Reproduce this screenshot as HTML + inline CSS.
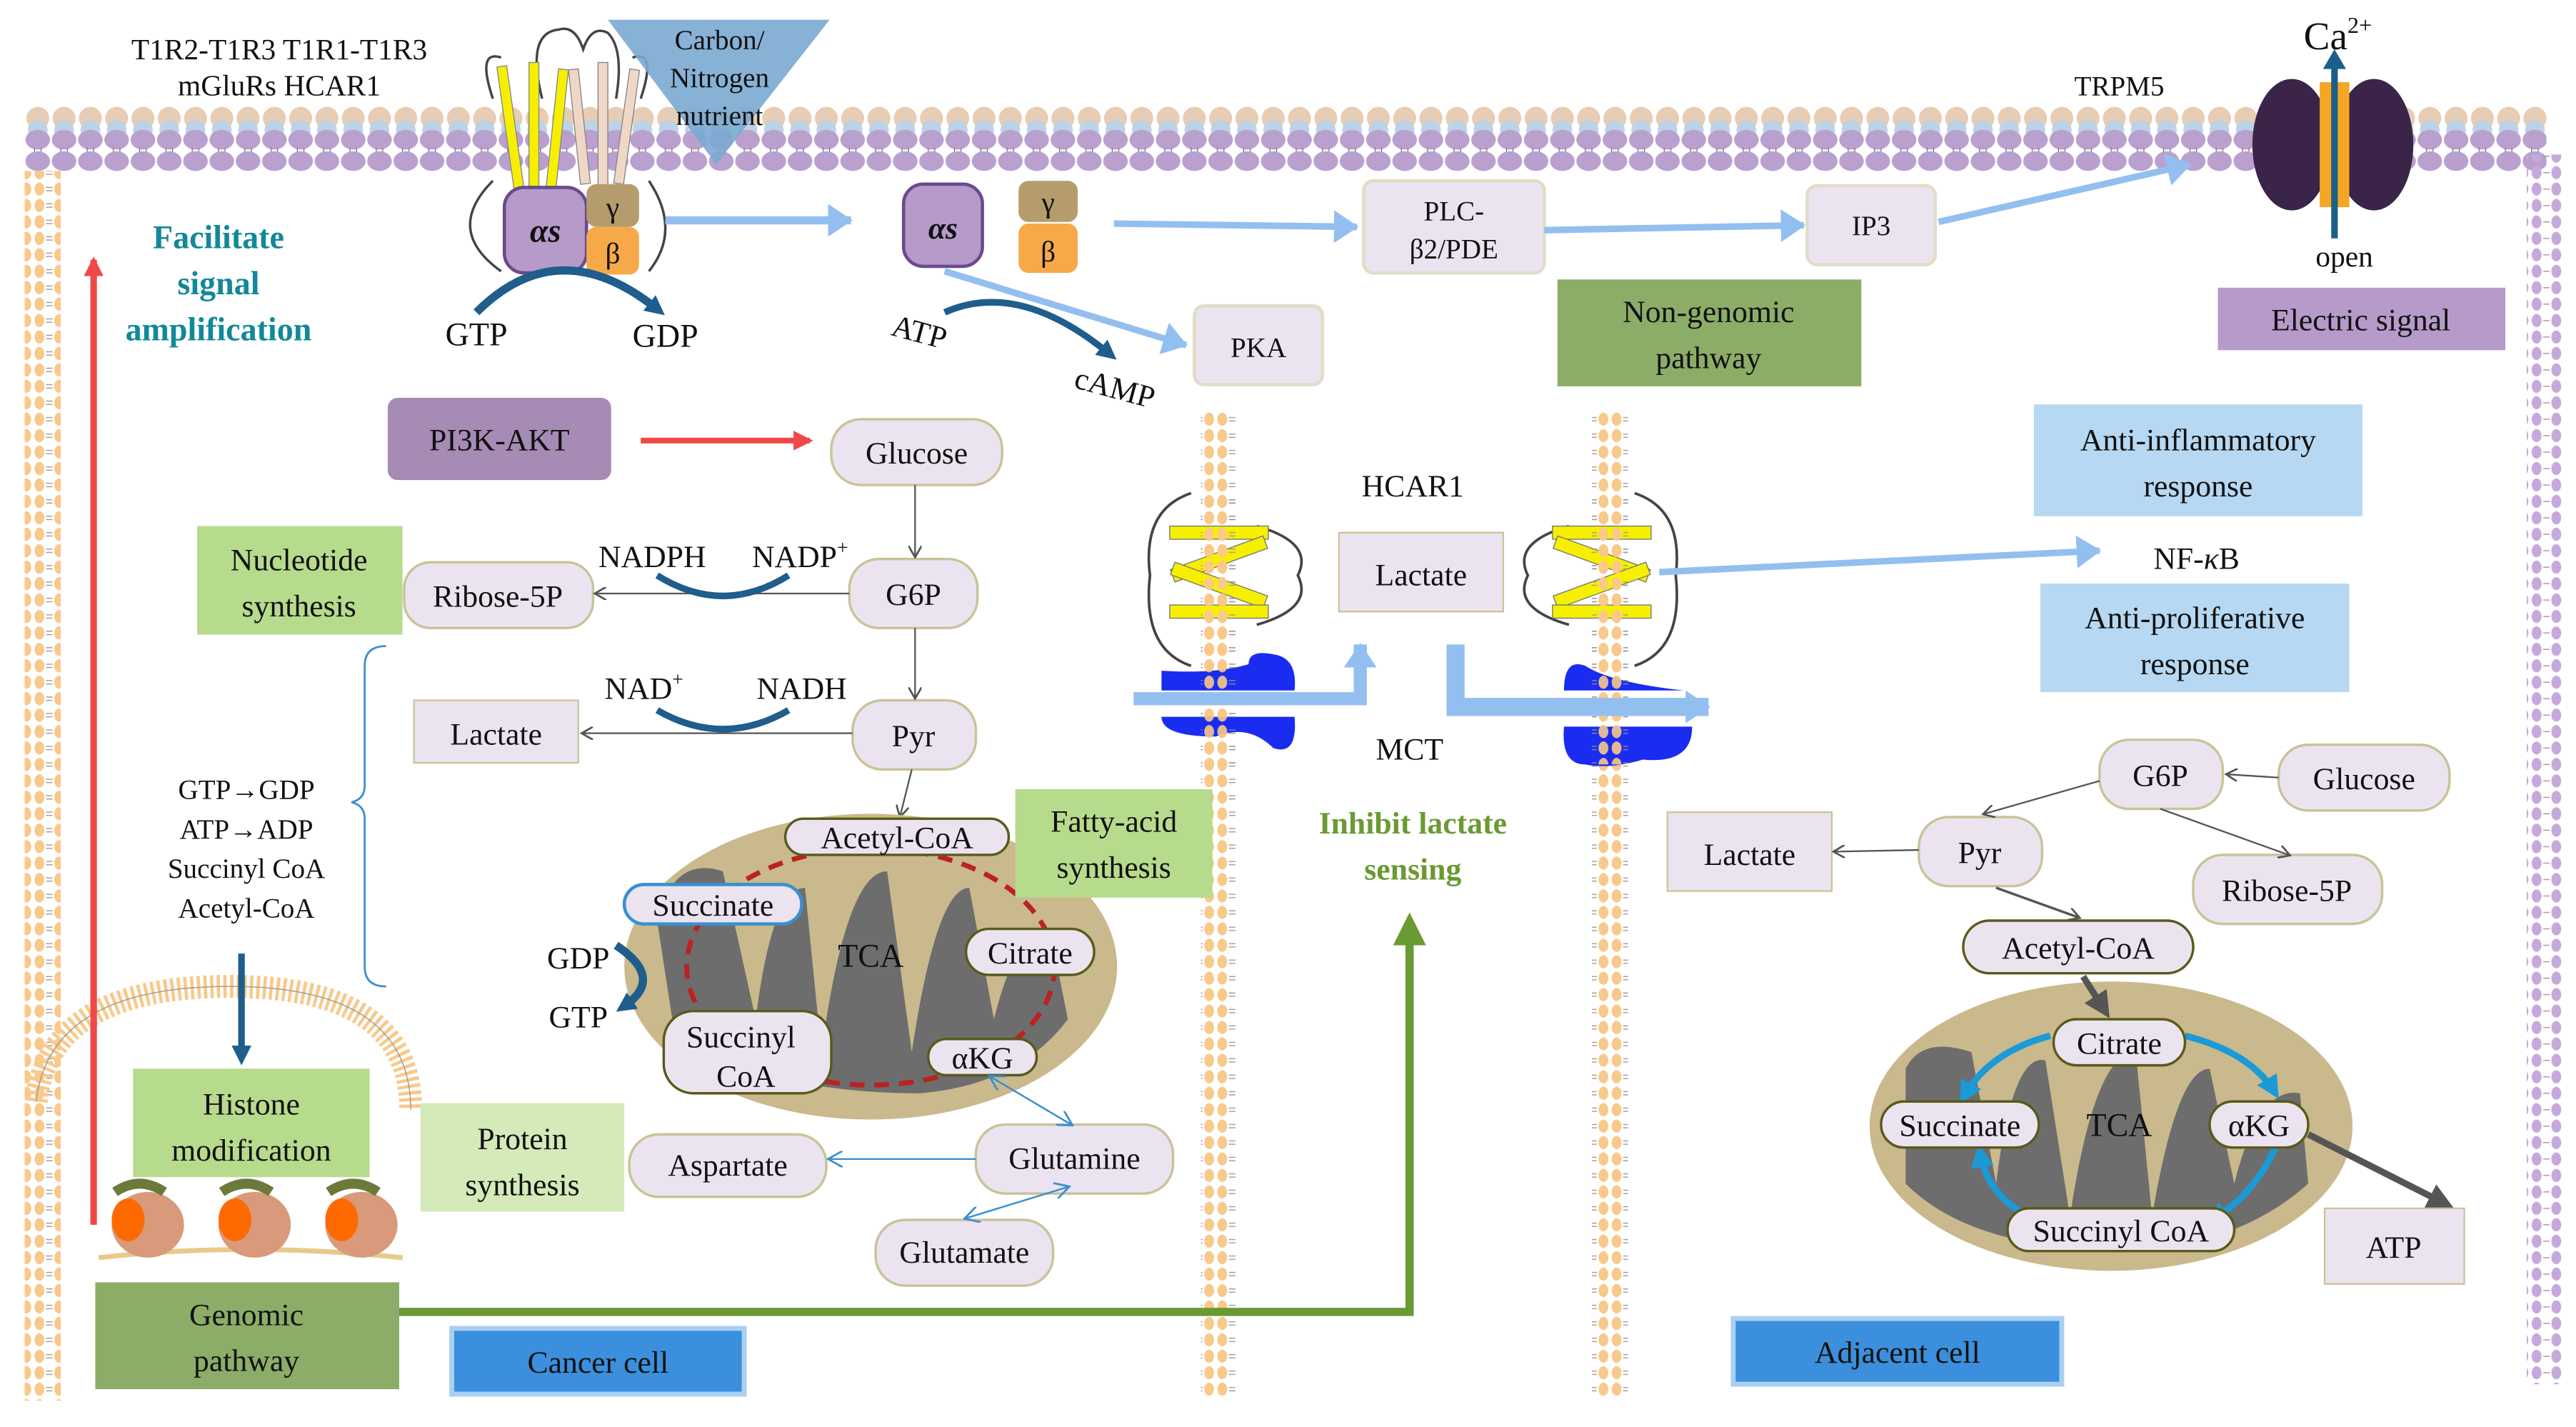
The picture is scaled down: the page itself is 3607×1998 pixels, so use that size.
<!DOCTYPE html>
<html><head><meta charset="utf-8"><style>
html,body{margin:0;padding:0;background:#fff;width:3607px;height:1998px;overflow:hidden}
svg{display:block}
text{font-family:"Liberation Serif",serif;fill:#111}
</style></head><body>
<svg width="3607" height="1998" viewBox="0 0 1568 868" preserveAspectRatio="none" xmlns="http://www.w3.org/2000/svg">
<defs>
<pattern id="memTop" x="15" y="0" width="16" height="110" patternUnits="userSpaceOnUse">
<circle cx="8" cy="72" r="7" fill="#e6cdb3"/>
<circle cx="8" cy="79" r="6" fill="#bcd3e6"/>
<ellipse cx="8" cy="85" rx="7.5" ry="6" fill="#b9a0cf"/>
<line x1="6" y1="90" x2="6" y2="93" stroke="#777" stroke-width="0.6"/>
<line x1="10" y1="90" x2="10" y2="93" stroke="#777" stroke-width="0.6"/>
<ellipse cx="8" cy="98" rx="7.5" ry="6" fill="#b9a0cf"/>
</pattern>
<pattern id="memV" x="0" y="0" width="20" height="10" patternUnits="userSpaceOnUse">
<ellipse cx="4" cy="5" rx="3" ry="4" fill="#f8c98a"/>
<ellipse cx="16" cy="5" rx="3" ry="4" fill="#f8c98a"/>
<line x1="8" y1="4" x2="12" y2="4" stroke="#999" stroke-width="0.6"/>
<line x1="8" y1="6" x2="12" y2="6" stroke="#999" stroke-width="0.6"/>
</pattern>
<pattern id="memVP" x="0" y="0" width="20" height="10" patternUnits="userSpaceOnUse">
<ellipse cx="4" cy="5" rx="3" ry="4" fill="#c6a9dc"/>
<ellipse cx="16" cy="5" rx="3" ry="4" fill="#c6a9dc"/>
<line x1="8" y1="5" x2="12" y2="5" stroke="#999" stroke-width="0.6"/>
</pattern>
<marker id="ab" markerWidth="8" markerHeight="8" refX="6" refY="4" orient="auto" markerUnits="userSpaceOnUse"><path d="M0,0 L7,4 L0,8" fill="none" stroke="#555" stroke-width="1.2"/></marker>
<marker id="lb" markerWidth="16" markerHeight="20" refX="14" refY="10" orient="auto" markerUnits="userSpaceOnUse"><path d="M0,0 L15,10 L0,20 Z" fill="#93bff0"/></marker>
<marker id="tl" markerWidth="10" markerHeight="10" refX="8" refY="5" orient="auto" markerUnits="userSpaceOnUse"><path d="M0,0 L9,5 L0,10" fill="none" stroke="#3a8fcf" stroke-width="1.2"/></marker>
<marker id="red" markerWidth="12" markerHeight="12" refX="10" refY="6" orient="auto" markerUnits="userSpaceOnUse"><path d="M0,0 L12,6 L0,12 Z" fill="#f04848"/></marker>
<marker id="db" markerWidth="12" markerHeight="12" refX="6" refY="6" orient="auto" markerUnits="userSpaceOnUse"><path d="M0,0 L12,6 L0,12 Z" fill="#1e5d8c"/></marker>
<marker id="gr" markerWidth="20" markerHeight="20" refX="10" refY="10" orient="auto" markerUnits="userSpaceOnUse"><path d="M0,0 L20,10 L0,20 Z" fill="#6a9a32"/></marker>
<marker id="gy" markerWidth="16" markerHeight="16" refX="12" refY="8" orient="auto" markerUnits="userSpaceOnUse"><path d="M0,0 L16,8 L0,16 Z" fill="#555"/></marker>
<marker id="cy" markerWidth="14" markerHeight="14" refX="10" refY="7" orient="auto" markerUnits="userSpaceOnUse"><path d="M0,0 L14,7 L0,14 Z" fill="#1b9ad6"/></marker>
</defs>

<rect x="15" y="60" width="1535" height="45" fill="url(#memTop)"/>
<rect x="15" y="104" width="22" height="748" fill="url(#memV)"/>
<rect x="1538" y="94" width="22" height="748" fill="url(#memVP)"/>
<rect x="731" y="250" width="22" height="600" fill="url(#memV)"/>
<rect x="969" y="250" width="22" height="600" fill="url(#memV)"/>
<path d="M22,670 Q30,600 140,600 Q250,600 250,675" fill="none" stroke="#f8c98a" stroke-width="14" stroke-dasharray="2 2"/>
<path d="M22,670 Q30,600 140,600 Q250,600 250,675" fill="none" stroke="#999" stroke-width="0.6"/>

<text x="170" y="36" font-size="18" text-anchor="middle">T1R2-T1R3  T1R1-T1R3</text>
<text x="170" y="58" font-size="18" text-anchor="middle">mGluRs   HCAR1</text>
<g stroke="#444" fill="none" stroke-width="1.5">
<path d="M330,60 Q320,20 340,18 Q350,15 355,30 Q360,15 370,20 Q380,30 375,60"/>
<path d="M305,35 Q290,30 300,60"/><path d="M385,35 Q400,30 390,60"/>
<path d="M300,110 Q270,140 305,165"/><path d="M395,110 Q415,140 395,165"/>
</g>
<g fill="#f6f000" stroke="#888" stroke-width="0.6">
<rect x="308" y="40" width="6" height="75" transform="rotate(-8 311 80)"/><rect x="322" y="38" width="6" height="80"/><rect x="336" y="42" width="6" height="75" transform="rotate(6 339 80)"/>
</g>
<g fill="#f0d7c5" stroke="#888" stroke-width="0.6">
<rect x="350" y="42" width="6" height="70" transform="rotate(-6 353 80)"/><rect x="364" y="38" width="6" height="75"/><rect x="378" y="42" width="6" height="70" transform="rotate(8 381 80)"/>
</g>
<path d="M370,12 L505,12 L436,100 Z" fill="#7ba8d2" opacity="0.9"/>
<text x="438" y="30" font-size="17" text-anchor="middle">Carbon/</text>
<text x="438" y="53" font-size="17" text-anchor="middle">Nitrogen</text>
<text x="438" y="76" font-size="17" text-anchor="middle">nutrient</text>

<rect x="307" y="114" width="50" height="52" rx="12" fill="#b69ac9" stroke="#6a4b8c" stroke-width="2"/>
<text x="332" y="147" font-size="20" font-weight="bold" text-anchor="middle" font-style="italic">αs</text>
<rect x="357" y="112" width="32" height="26" rx="6" fill="#b49c6c"/>
<text x="373" y="132" font-size="18" text-anchor="middle">γ</text>
<rect x="357" y="138" width="32" height="29" rx="6" fill="#f7a94a"/>
<text x="373" y="160" font-size="18" text-anchor="middle">β</text>
<path d="M290,190 Q340,140 400,188" fill="none" stroke="#1e5d8c" stroke-width="5" marker-end="url(#db)"/>
<text x="290" y="210" font-size="20" text-anchor="middle">GTP</text>
<text x="405" y="211" font-size="20" text-anchor="middle">GDP</text>

<line x1="405" y1="134" x2="518" y2="134" stroke="#93bff0" stroke-width="5" marker-end="url(#lb)"/>
<rect x="550" y="112" width="48" height="50" rx="12" fill="#b69ac9" stroke="#6a4b8c" stroke-width="2"/>
<text x="574" y="145" font-size="19" font-weight="bold" text-anchor="middle" font-style="italic">αs</text>
<rect x="620" y="110" width="36" height="25" rx="6" fill="#b49c6c"/>
<text x="638" y="129" font-size="18" text-anchor="middle">γ</text>
<rect x="620" y="136" width="36" height="30" rx="6" fill="#f7a94a"/>
<text x="638" y="159" font-size="18" text-anchor="middle">β</text>
<line x1="678" y1="136" x2="826" y2="138" stroke="#93bff0" stroke-width="4" marker-end="url(#lb)"/>
<rect x="830" y="110" width="110" height="56" rx="6" fill="#ebe4f0" stroke="#e0ddc8" stroke-width="2"/>
<text x="885" y="134" font-size="17" text-anchor="middle">PLC-</text>
<text x="885" y="157" font-size="17" text-anchor="middle">β2/PDE</text>
<line x1="940" y1="140" x2="1098" y2="137" stroke="#93bff0" stroke-width="4" marker-end="url(#lb)"/>
<rect x="1100" y="113" width="78" height="48" rx="6" fill="#ebe4f0" stroke="#e0ddc8" stroke-width="2"/>
<text x="1139" y="143" font-size="17" text-anchor="middle">IP3</text>
<line x1="1180" y1="135" x2="1333" y2="100" stroke="#93bff0" stroke-width="4" marker-end="url(#lb)"/>
<text x="1290" y="58" font-size="17" text-anchor="middle">TRPM5</text>
<ellipse cx="1395" cy="88" rx="24" ry="40" fill="#3a2448"/>
<ellipse cx="1445" cy="88" rx="24" ry="40" fill="#3a2448"/>
<rect x="1412" y="50" width="18" height="76" fill="#f5a623"/>
<line x1="1421" y1="145" x2="1421" y2="40" stroke="#1a5f8c" stroke-width="4"/>
<path d="M1414,42 L1421,30 L1428,42 Z" fill="#1a5f8c"/>
<text x="1423" y="30" font-size="24" text-anchor="middle">Ca<tspan font-size="14" dy="-10">2+</tspan></text>
<text x="1427" y="162" font-size="18" text-anchor="middle">open</text>
<rect x="1350" y="175" width="175" height="38" fill="#b69ac9"/>
<text x="1437" y="201" font-size="19" text-anchor="middle">Electric signal</text>
<rect x="948" y="170" width="185" height="65" fill="#8cad68"/>
<text x="1040" y="196" font-size="19" text-anchor="middle">Non-genomic</text>
<text x="1040" y="224" font-size="19" text-anchor="middle">pathway</text>

<line x1="575" y1="165" x2="722" y2="210" stroke="#93bff0" stroke-width="4" marker-end="url(#lb)"/>
<rect x="727" y="186" width="78" height="48" rx="6" fill="#ebe4f0" stroke="#e0ddc8" stroke-width="2"/>
<text x="766" y="217" font-size="17" text-anchor="middle">PKA</text>
<path d="M575,190 Q620,170 675,215" fill="none" stroke="#1e5d8c" stroke-width="4" marker-end="url(#db)"/>
<text x="558" y="208" font-size="19" text-anchor="middle" transform="rotate(15 558 208)">ATP</text>
<text x="677" y="242" font-size="19" text-anchor="middle" transform="rotate(15 677 242)">cAMP</text>

<line x1="57" y1="745" x2="57" y2="158" stroke="#f04848" stroke-width="4" marker-end="url(#red)"/>
<text x="133" y="151" font-size="20" font-weight="bold" text-anchor="middle" style="fill:#12889a">Facilitate</text>
<text x="133" y="179" font-size="20" font-weight="bold" text-anchor="middle" style="fill:#12889a">signal</text>
<text x="133" y="207" font-size="20" font-weight="bold" text-anchor="middle" style="fill:#12889a">amplification</text>
<rect x="236" y="242" width="136" height="50" rx="6" fill="#a68bb5"/>
<text x="304" y="274" font-size="19" text-anchor="middle">PI3K-AKT</text>
<line x1="390" y1="268" x2="493" y2="268" stroke="#f04848" stroke-width="3.5" marker-end="url(#red)"/>

<g fill="#ebe4f0" stroke="#c9c398" stroke-width="1.5">
<rect x="506" y="255" width="104" height="40" rx="18"/>
<rect x="517" y="340" width="78" height="42" rx="18"/>
<rect x="246" y="342" width="115" height="40" rx="16"/>
<rect x="519" y="426" width="75" height="42" rx="18"/>
<rect x="383" y="690" width="120" height="38" rx="18"/>
<rect x="594" y="684" width="120" height="42" rx="18"/>
<rect x="533" y="742" width="108" height="40" rx="18"/>
</g>
<text x="558" y="282" font-size="19" text-anchor="middle">Glucose</text>
<text x="556" y="368" font-size="19" text-anchor="middle">G6P</text>
<text x="303" y="369" font-size="19" text-anchor="middle">Ribose-5P</text>
<text x="556" y="454" font-size="19" text-anchor="middle">Pyr</text>
<text x="443" y="715" font-size="19" text-anchor="middle">Aspartate</text>
<text x="654" y="711" font-size="19" text-anchor="middle">Glutamine</text>
<text x="587" y="768" font-size="19" text-anchor="middle">Glutamate</text>
<line x1="557" y1="295" x2="557" y2="338" stroke="#555" marker-end="url(#ab)"/>
<line x1="557" y1="382" x2="557" y2="424" stroke="#555" marker-end="url(#ab)"/>
<line x1="517" y1="361" x2="363" y2="361" stroke="#555" marker-end="url(#ab)"/>
<line x1="519" y1="446" x2="355" y2="446" stroke="#555" marker-end="url(#ab)"/>
<line x1="555" y1="468" x2="548" y2="496" stroke="#555" marker-end="url(#ab)"/>
<path d="M400,350 Q440,375 480,350" fill="none" stroke="#1e5d8c" stroke-width="4"/>
<path d="M400,432 Q440,455 480,432" fill="none" stroke="#1e5d8c" stroke-width="4"/>
<text x="397" y="345" font-size="19" text-anchor="middle">NADPH</text>
<text x="487" y="345" font-size="19" text-anchor="middle">NADP<tspan font-size="12" dy="-8">+</tspan></text>
<text x="392" y="425" font-size="19" text-anchor="middle">NAD<tspan font-size="12" dy="-8">+</tspan></text>
<text x="488" y="425" font-size="19" text-anchor="middle">NADH</text>
<rect x="252" y="426" width="100" height="38" fill="#ebe4f0" stroke="#c9c398"/>
<text x="302" y="453" font-size="19" text-anchor="middle">Lactate</text>
<rect x="120" y="320" width="125" height="66" fill="#b7db8c"/>
<text x="182" y="347" font-size="19" text-anchor="middle">Nucleotide</text>
<text x="182" y="375" font-size="19" text-anchor="middle">synthesis</text>

<path d="M235,393 Q222,393 222,405 L222,478 Q222,486 214,488 Q222,490 222,498 L222,588 Q222,600 235,600" fill="none" stroke="#3a8fcf" stroke-width="1.2"/>
<g font-size="17" text-anchor="middle">
<text x="150" y="486">GTP→GDP</text><text x="150" y="510">ATP→ADP</text>
<text x="150" y="534">Succinyl CoA</text><text x="150" y="558">Acetyl-CoA</text>
</g>
<line x1="147" y1="580" x2="147" y2="642" stroke="#1e5d8c" stroke-width="4" marker-end="url(#db)"/>
<rect x="81" y="650" width="144" height="66" fill="#b7db8c"/>
<text x="153" y="678" font-size="19" text-anchor="middle">Histone</text>
<text x="153" y="706" font-size="19" text-anchor="middle">modification</text>
<rect x="256" y="671" width="124" height="66" fill="#d4eab8"/>
<text x="318" y="699" font-size="19" text-anchor="middle">Protein</text>
<text x="318" y="727" font-size="19" text-anchor="middle">synthesis</text>
<g>
<path d="M60,765 Q150,755 245,765" stroke="#e8c98a" stroke-width="3" fill="none"/>
<ellipse cx="90" cy="745" rx="22" ry="20" fill="#d89a7a"/><ellipse cx="78" cy="742" rx="10" ry="13" fill="#ff6a00"/><path d="M70,725 Q85,715 100,725" stroke="#6b7a3a" stroke-width="6" fill="none"/>
<ellipse cx="155" cy="745" rx="22" ry="20" fill="#d89a7a"/><ellipse cx="143" cy="742" rx="10" ry="13" fill="#ff6a00"/><path d="M135,725 Q150,715 165,725" stroke="#6b7a3a" stroke-width="6" fill="none"/>
<ellipse cx="220" cy="745" rx="22" ry="20" fill="#d89a7a"/><ellipse cx="208" cy="742" rx="10" ry="13" fill="#ff6a00"/><path d="M200,725 Q215,715 230,725" stroke="#6b7a3a" stroke-width="6" fill="none"/>
</g>
<rect x="58" y="780" width="185" height="65" fill="#8cad68"/>
<text x="150" y="806" font-size="19" text-anchor="middle">Genomic</text>
<text x="150" y="834" font-size="19" text-anchor="middle">pathway</text>
<rect x="275" y="808" width="178" height="40" fill="#3b8fdc" stroke="#a8d0f2" stroke-width="3"/>
<text x="364" y="835" font-size="19" text-anchor="middle">Cancer cell</text>
<polyline points="243,798 858,798 858,565" fill="none" stroke="#6a9a32" stroke-width="5" marker-end="url(#gr)"/>

<ellipse cx="530" cy="588" rx="150" ry="93" fill="#c9b98c"/>
<path d="M400,560 Q410,520 440,530 L460,620 Q470,540 490,540 L500,640 Q515,530 540,530 L555,640 Q570,540 590,540 L605,620 Q620,560 640,570 L650,620 Q620,660 560,665 Q460,665 410,625 Z" fill="#6d6d6d"/>
<ellipse cx="530" cy="588" rx="112" ry="72" fill="none" stroke="#b22" stroke-width="3" stroke-dasharray="9 6"/>
<path d="M612,565 L618,577 L606,575 Z" fill="#b22"/>
<g fill="#ebe4f0" stroke="#5a5a1a" stroke-width="1.5">
<rect x="478" y="498" width="136" height="22" rx="11"/>
<rect x="588" y="565" width="78" height="28" rx="14"/>
<rect x="404" y="615" width="102" height="50" rx="18"/>
<rect x="565" y="632" width="66" height="22" rx="11"/>
</g>
<rect x="380" y="538" width="108" height="24" rx="12" fill="#ebe4f0" stroke="#3a8fcf" stroke-width="2"/>
<text x="546" y="516" font-size="19" text-anchor="middle">Acetyl-CoA</text>
<text x="434" y="557" font-size="19" text-anchor="middle">Succinate</text>
<text x="627" y="586" font-size="19" text-anchor="middle">Citrate</text>
<text x="451" y="637" font-size="19" text-anchor="middle">Succinyl</text>
<text x="454" y="661" font-size="19" text-anchor="middle">CoA</text>
<text x="598" y="650" font-size="19" text-anchor="middle">αKG</text>
<text x="530" y="588" font-size="20" text-anchor="middle">TCA</text>
<text x="352" y="589" font-size="19" text-anchor="middle">GDP</text>
<text x="352" y="625" font-size="19" text-anchor="middle">GTP</text>
<path d="M375,575 Q405,595 380,612" fill="none" stroke="#1e5d8c" stroke-width="5" marker-end="url(#db)"/>
<rect x="618" y="480" width="120" height="66" fill="#b7db8c"/>
<text x="678" y="506" font-size="19" text-anchor="middle">Fatty-acid</text>
<text x="678" y="534" font-size="19" text-anchor="middle">synthesis</text>
<line x1="603" y1="655" x2="652" y2="684" stroke="#3a8fcf" marker-end="url(#tl)"/>
<line x1="652" y1="684" x2="603" y2="655" stroke="#3a8fcf" marker-end="url(#tl)"/>
<line x1="594" y1="705" x2="505" y2="705" stroke="#3a8fcf" marker-end="url(#tl)"/>
<line x1="650" y1="722" x2="588" y2="741" stroke="#3a8fcf" marker-end="url(#tl)"/>
<line x1="588" y1="741" x2="650" y2="722" stroke="#3a8fcf" marker-end="url(#tl)"/>

<g stroke="#444" fill="none" stroke-width="1.6">
<path d="M725,300 Q695,310 700,350 Q695,395 725,405"/><path d="M765,320 Q800,330 790,350 Q800,370 765,380"/>
<path d="M995,300 Q1025,310 1020,350 Q1025,395 995,405"/><path d="M955,320 Q920,330 930,350 Q920,370 955,380"/>
</g>
<g fill="#f6f000" stroke="#777" stroke-width="0.6">
<rect x="712" y="320" width="60" height="8"/><rect x="712" y="336" width="60" height="8" transform="rotate(-20 742 340)"/><rect x="712" y="352" width="60" height="8" transform="rotate(20 742 356)"/><rect x="712" y="368" width="60" height="8"/>
<rect x="945" y="320" width="60" height="8"/><rect x="945" y="336" width="60" height="8" transform="rotate(20 975 340)"/><rect x="945" y="352" width="60" height="8" transform="rotate(-20 975 356)"/><rect x="945" y="368" width="60" height="8"/>
</g>
<rect x="731" y="300" width="22" height="100" fill="url(#memV)"/>
<rect x="969" y="300" width="22" height="100" fill="url(#memV)"/>
<text x="860" y="302" font-size="19" text-anchor="middle">HCAR1</text>
<rect x="815" y="324" width="100" height="48" fill="#ebe4f0" stroke="#c9c398"/>
<text x="865" y="356" font-size="19" text-anchor="middle">Lactate</text>
<g fill="#1a2cf0">
<path d="M707,420 L707,408 Q740,410 760,404 Q760,395 775,398 Q790,400 788,420 Z"/>
<path d="M707,436 L788,436 Q790,460 775,455 Q760,440 740,448 Q707,448 707,436 Z"/>
<path d="M952,420 Q952,400 965,405 Q980,415 1025,420 Z"/>
<path d="M952,442 L1030,442 Q1030,465 1000,462 Q980,468 965,465 Q950,465 952,442 Z"/>
</g>
<rect x="731" y="395" width="22" height="70" fill="url(#memV)" opacity="0.9"/>
<rect x="969" y="395" width="22" height="70" fill="url(#memV)" opacity="0.9"/>
<polyline points="690,425 828,425 828,392" fill="none" stroke="#93bff0" stroke-width="8" marker-end="url(#lb)"/>
<polyline points="886,392 886,430 1040,430" fill="none" stroke="#93bff0" stroke-width="11" marker-end="url(#lb)"/>
<text x="858" y="462" font-size="19" text-anchor="middle">MCT</text>
<text x="860" y="507" font-size="19" font-weight="bold" text-anchor="middle" style="fill:#6a9a32">Inhibit lactate</text>
<text x="860" y="535" font-size="19" font-weight="bold" text-anchor="middle" style="fill:#6a9a32">sensing</text>

<line x1="1010" y1="348" x2="1278" y2="335" stroke="#93bff0" stroke-width="4" marker-end="url(#lb)"/>
<rect x="1238" y="246" width="200" height="68" fill="#b6d8f2"/>
<text x="1338" y="274" font-size="19" text-anchor="middle">Anti-inflammatory</text>
<text x="1338" y="302" font-size="19" text-anchor="middle">response</text>
<text x="1337" y="346" font-size="19" text-anchor="middle">NF-<tspan font-style="italic">κ</tspan>B</text>
<rect x="1242" y="355" width="188" height="66" fill="#b6d8f2"/>
<text x="1336" y="382" font-size="19" text-anchor="middle">Anti-proliferative</text>
<text x="1336" y="410" font-size="19" text-anchor="middle">response</text>

<g fill="#ebe4f0" stroke="#c9c398" stroke-width="1.5">
<rect x="1278" y="450" width="75" height="42" rx="18"/>
<rect x="1387" y="453" width="104" height="40" rx="18"/>
<rect x="1168" y="497" width="75" height="42" rx="18"/>
<rect x="1335" y="520" width="115" height="42" rx="18"/>
</g>
<text x="1315" y="478" font-size="19" text-anchor="middle">G6P</text>
<text x="1439" y="480" font-size="19" text-anchor="middle">Glucose</text>
<text x="1205" y="525" font-size="19" text-anchor="middle">Pyr</text>
<text x="1392" y="548" font-size="19" text-anchor="middle">Ribose-5P</text>
<rect x="1015" y="494" width="100" height="48" fill="#ebe4f0" stroke="#c9c398"/>
<text x="1065" y="526" font-size="19" text-anchor="middle">Lactate</text>
<line x1="1387" y1="473" x2="1356" y2="471" stroke="#555" marker-end="url(#ab)"/>
<line x1="1278" y1="475" x2="1208" y2="495" stroke="#555" marker-end="url(#ab)"/>
<line x1="1315" y1="492" x2="1393" y2="520" stroke="#555" marker-end="url(#ab)"/>
<line x1="1168" y1="517" x2="1117" y2="518" stroke="#555" marker-end="url(#ab)"/>
<line x1="1215" y1="540" x2="1265" y2="558" stroke="#555" stroke-width="1.5" marker-end="url(#ab)"/>
<rect x="1195" y="560" width="140" height="32" rx="16" fill="#ebe4f0" stroke="#5a5a1a" stroke-width="1.5"/>
<text x="1265" y="583" font-size="19" text-anchor="middle">Acetyl-CoA</text>
<ellipse cx="1285" cy="685" rx="147" ry="88" fill="#c9b98c"/>
<path d="M1160,650 Q1170,630 1200,640 L1215,720 Q1225,640 1245,645 L1260,740 Q1275,640 1300,640 L1310,740 Q1325,650 1345,650 L1360,720 Q1375,660 1400,665 L1405,720 Q1360,760 1290,760 Q1200,760 1160,720 Z" fill="#6d6d6d"/>
<line x1="1268" y1="594" x2="1282" y2="616" stroke="#555" stroke-width="4" marker-end="url(#gy)"/>
<path d="M1248,630 Q1210,640 1195,668" fill="none" stroke="#1b9ad6" stroke-width="4" marker-end="url(#cy)"/>
<path d="M1330,630 Q1370,640 1385,665" fill="none" stroke="#1b9ad6" stroke-width="4" marker-end="url(#cy)"/>
<path d="M1385,698 Q1370,730 1345,742" fill="none" stroke="#1b9ad6" stroke-width="4" marker-end="url(#cy)"/>
<path d="M1240,742 Q1210,730 1205,700" fill="none" stroke="#1b9ad6" stroke-width="4" marker-end="url(#cy)"/>
<g fill="#ebe4f0" stroke="#5a5a1a" stroke-width="1.5">
<rect x="1250" y="620" width="80" height="28" rx="14"/>
<rect x="1145" y="670" width="96" height="28" rx="14"/>
<rect x="1345" y="670" width="60" height="28" rx="14"/>
<rect x="1222" y="735" width="138" height="26" rx="13"/>
</g>
<text x="1290" y="641" font-size="19" text-anchor="middle">Citrate</text>
<text x="1193" y="691" font-size="19" text-anchor="middle">Succinate</text>
<text x="1375" y="691" font-size="19" text-anchor="middle">αKG</text>
<text x="1291" y="755" font-size="19" text-anchor="middle">Succinyl CoA</text>
<text x="1290" y="691" font-size="20" text-anchor="middle">TCA</text>
<line x1="1405" y1="690" x2="1490" y2="733" stroke="#555" stroke-width="4" marker-end="url(#gy)"/>
<rect x="1415" y="735" width="85" height="46" fill="#ebe4f0" stroke="#c9c398"/>
<text x="1457" y="765" font-size="19" text-anchor="middle">ATP</text>
<rect x="1055" y="802" width="200" height="40" fill="#3b8fdc" stroke="#a8d0f2" stroke-width="3"/>
<text x="1155" y="829" font-size="19" text-anchor="middle">Adjacent cell</text>
</svg>
</body></html>
